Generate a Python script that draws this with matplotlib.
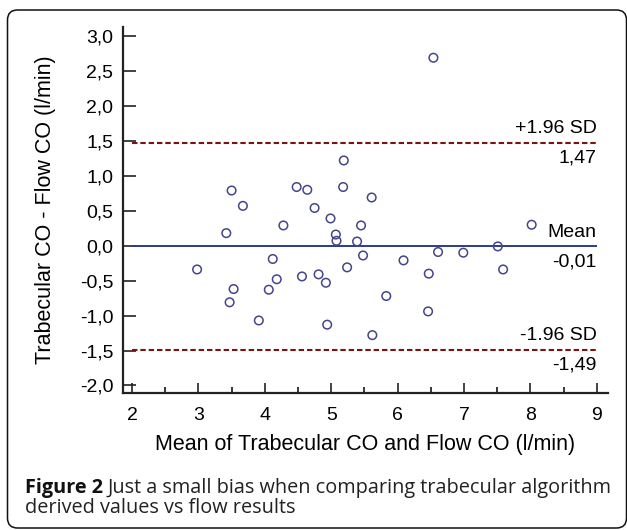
import numpy as np
import matplotlib
matplotlib.use('Agg')
from matplotlib import pyplot as plt
from matplotlib.patches import FancyBboxPatch
from matplotlib.transforms import IdentityTransform

# pontos do grafico de Bland-Altman (media e diferenca, em l/min)
media = [2.98, 3.42, 3.47, 3.50, 3.53, 3.67, 3.91, 4.06, 4.12, 4.18,
         4.28, 4.48, 4.56, 4.64, 4.75, 4.81, 4.92, 4.94, 4.99, 5.07,
         5.08, 5.18, 5.19, 5.24, 5.39, 5.45, 5.48, 5.61, 5.62, 5.83,
         6.09, 6.46, 6.47, 6.54, 6.61, 6.99, 7.51, 7.59, 8.02]
diferenca = [-0.34, 0.18, -0.81, 0.79, -0.62, 0.57, -1.07, -0.63, -0.19, -0.48,
             0.29, 0.84, -0.44, 0.80, 0.54, -0.41, -0.53, -1.13, 0.39, 0.16,
             0.07, 0.84, 1.22, -0.31, 0.06, 0.29, -0.14, 0.69, -1.28, -0.72,
             -0.21, -0.94, -0.40, 2.69, -0.09, -0.10, -0.01, -0.34, 0.30]

vies = -0.01      # linha da media
lim_sup = 1.47    # +1.96 SD
lim_inf = -1.49   # -1.96 SD

yticks = [-2.0, -1.5, -1.0, -0.5, 0.0, 0.5, 1.0, 1.5, 2.0, 2.5, 3.0]
yrotulos = ['-2,0', '-1,5', '-1,0', '-0,5', '0,0', '0,5', '1,0', '1,5', '2,0', '2,5', '3,0']
xticks = [2, 3, 4, 5, 6, 7, 8, 9]
xticks_menor = [2.5, 3.5, 4.5, 5.5, 6.5, 7.5, 8.5]

plt.rcParams['font.family'] = ['Liberation Sans', 'DejaVu Sans']

fig = plt.figure(figsize=(6.27, 5.30), dpi=100)
ax = fig.add_axes([123/627, 1 - 393/530, (608 - 123)/627, (393 - 27)/530])

ax.scatter(media, diferenca, s=38, facecolors='none', edgecolors='#45458a', linewidths=1.1, zorder=3)

x0, x1 = xticks[0], xticks[-1]
ax.hlines(lim_sup, x0, x1, colors='#7a1414', linestyles=(0, (2.6, 1.4)), linewidth=1.5)
ax.hlines(lim_inf, x0, x1, colors='#7a1414', linestyles=(0, (2.6, 1.4)), linewidth=1.5)
ax.hlines(vies, x0, x1, colors='#2e3a8c', linewidth=1.4)

#rotulos das linhas, alinhados a direita
fs = 14
ax.text(x1, lim_sup + 0.08, '+1.96 SD', ha='right', va='bottom', fontsize=fs)
ax.text(x1, lim_sup - 0.1, '1,47', ha='right', va='top', fontsize=fs)
ax.text(x1, vies + 0.08, 'Mean', ha='right', va='bottom', fontsize=fs)
ax.text(x1, vies - 0.1, '-0,01', ha='right', va='top', fontsize=fs)
ax.text(x1, lim_inf + 0.08, '-1.96 SD', ha='right', va='bottom', fontsize=fs)
ax.text(x1, lim_inf - 0.1, '-1,49', ha='right', va='top', fontsize=fs)

ax.set_xlim(1.864, 9.17)
ax.set_ylim(-2.108, 3.13)
ax.set_xticks(xticks)
ax.set_xticklabels([str(v) for v in xticks], fontsize=fs)
ax.set_xticks(xticks_menor, minor=True)
ax.set_yticks(yticks)
ax.set_yticklabels(yrotulos, fontsize=fs)

ax.tick_params(axis='both', which='major', direction='in', width=1.2, color='#222222')
ax.tick_params(axis='y', which='major', length=9, pad=7)
ax.tick_params(axis='x', which='major', length=7, pad=10)
ax.tick_params(axis='x', which='minor', direction='in', length=4, width=1.1)

for lado in ['top', 'right']:
    ax.spines[lado].set_visible(False)
for lado in ['left', 'bottom']:
    ax.spines[lado].set_linewidth(1.6)
    ax.spines[lado].set_color('#222222')

ax.set_xlabel('Mean of Trabecular CO and Flow CO (l/min)', fontsize=15.5)
ax.set_ylabel('Trabecular CO - Flow CO (l/min)', fontsize=15.5)
ax.xaxis.set_label_coords(0.5, (393 - 434) / 366)
ax.yaxis.set_label_coords((56 - 123) / 485, 0.5)

#moldura arredondada (so esquerda e topo aparecem)
moldura = FancyBboxPatch((7.5, 2), 619, 518, boxstyle='round,pad=0,rounding_size=10',
                         transform=IdentityTransform(), facecolor='none',
                         edgecolor='#111111', linewidth=1.1)
fig.add_artist(moldura)

#legenda da figura
fam = ['Open Sans', 'DejaVu Sans']
t1 = fig.text(25/627, 1 - 493/530, 'Figure 2', fontsize=14.3, fontweight='bold',
              family=fam, color='#111111', va='baseline')
fig.canvas.draw()
bb = t1.get_window_extent()
fig.text((bb.x1 + 5)/627, 1 - 493/530, 'Just a small bias when comparing trabecular algorithm',
         fontsize=14.3, family=fam, color='#222222', va='baseline')
fig.text(25/627, 1 - 513/530, 'derived values vs flow results', fontsize=14.3,
         family=fam, color='#222222', va='baseline')

fig.savefig('out.png', dpi=100)
